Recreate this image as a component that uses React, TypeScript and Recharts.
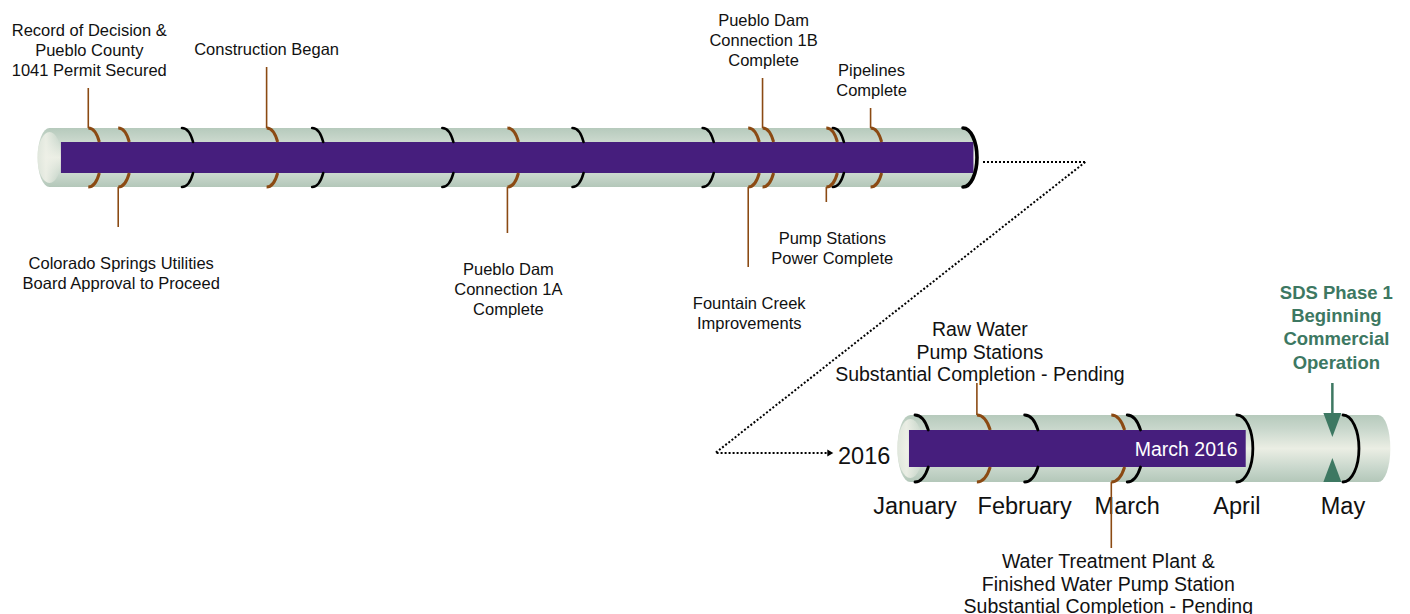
import React from "react";
import { ComposedChart, XAxis, YAxis, Scatter, ReferenceArea } from "recharts";

// ---- top timeline (decimal years) ----
const years = [2010, 2011, 2012, 2013, 2014, 2015, 2016];
const topTubeSpan = [2008.89, 2016.0];
const topProgressSpan = [2009.07, 2016.08];
const topMilestoneDates = [2009.28, 2009.51, 2010.65, 2012.5, 2014.35, 2014.46, 2014.95, 2015.29];
const topMilestoneLabels = [
  "Record of Decision &\nPueblo County\n1041 Permit Secured",
  "Colorado Springs Utilities\nBoard Approval to Proceed",
  "Construction Began",
  "Pueblo Dam\nConnection 1A\nComplete",
  "Fountain Creek\nImprovements",
  "Pueblo Dam\nConnection 1B\nComplete",
  "Pump Stations\nPower Complete",
  "Pipelines\nComplete",
];

// ---- bottom timeline (day of 2016) ----
const zoomYearLabel = "2016";
const monthNames = ["January", "February", "March", "April", "May"];
const monthStarts = [0, 31, 60, 91, 121];
const bottomTubeSpan = [-5, 131];
const bottomProgressSpan = [-1.7, 93.5];
const progressLabel = "March 2016";
const bottomMilestoneDates = [17.5, 55.5];
const bottomMilestoneLabels = [
  "Raw Water\nPump Stations\nSubstantial Completion - Pending",
  "Water Treatment Plant &\nFinished Water Pump Station\nSubstantial Completion - Pending",
];
const goalDate = 118;
const goalLabel = "SDS Phase 1\nBeginning\nCommercial\nOperation";

// ---- layout ----
const W = 1410;
const H = 614;
const FONT = '"Liberation Sans", Arial, Helvetica, sans-serif';
const PURPLE = "#461e7d";
const BROWN = "#8b4a13";
const GREEN = "#3d7862";

const YR_DOMAIN = [2008.6018, 2019.4341];
const MO_DOMAIN = [-258.69, 139.95];
const YR_PX = W / (YR_DOMAIN[1] - YR_DOMAIN[0]);
const MO_PX = W / (MO_DOMAIN[1] - MO_DOMAIN[0]);

const TOP = {
  cy: 157.5, r: 29.5, h: 15.5, bulge: 13, capL: 12, capR: 14,
  px: YR_PX, end: topProgressSpan[1],
  fs: 16.5, lh: 20, gapUp: 12.5, gapDown: 42,
};
const BOT = {
  cy: 448.5, r: 33.5, h: 18.5, bulge: 16, capL: 13, capR: 12,
  px: MO_PX, end: bottomProgressSpan[1],
  fs: 19.5, lh: 22.5, gapUp: 2, gapDown: 20,
};

// leader direction (-1 up, 1 down), length and label nudge
const topLeaders = [
  { dir: -1, len: 40, dx: 1 },
  { dir: 1, len: 40, dx: 3 },
  { dir: -1, len: 61, dx: 0 },
  { dir: 1, len: 46, dx: 1 },
  { dir: 1, len: 80, dx: 1 },
  { dir: -1, len: 50, dx: 1 },
  { dir: 1, len: 15, dx: 6 },
  { dir: -1, len: 20, dx: 1 },
];
const bottomLeaders = [
  { dir: -1, len: 32, dx: 3 },
  { dir: 1, len: 66, dx: -3 },
];

const yearMarks = years.map((yr, i) => ({
  x: yr, y: TOP.cy, g: TOP,
  w: i === years.length - 1 ? 3.6 : 2.6,
  b: i === years.length - 1 ? TOP.capR : TOP.bulge,
}));
const monthMarks = monthStarts.map((d, i) => ({
  x: d, y: BOT.cy, g: BOT, w: 2.8, b: BOT.bulge, name: monthNames[i],
}));
const topMarks = topMilestoneDates.map((d, i) => ({
  x: d, y: TOP.cy, g: TOP, label: topMilestoneLabels[i], ...topLeaders[i],
}));
const bottomMarks = bottomMilestoneDates.map((d, i) => ({
  x: d, y: BOT.cy, g: BOT, label: bottomMilestoneLabels[i], ...bottomLeaders[i],
}));
const goalMarks = [{ x: goalDate, y: BOT.cy, label: goalLabel }];

const kFor = (g: any) => Math.sqrt(1 - (g.h / g.r) ** 2);

function arcD(cx: number, cy: number, g: any, b: number, full: boolean) {
  const r = g.r;
  if (full) return `M${cx},${cy - r} A${b},${r} 0 0 1 ${cx},${cy + r}`;
  const xp = cx + b * kFor(g);
  return (
    `M${cx},${cy - r} A${b},${r} 0 0 1 ${xp},${cy - g.h} ` +
    `M${xp},${cy + g.h} A${b},${r} 0 0 1 ${cx},${cy + r}`
  );
}

const TickArc = (p: any) => {
  const { cx, cy, payload } = p;
  const g = payload.g;
  const full = (payload.x - g.end) * g.px + payload.b * kFor(g) >= 0;
  return (
    <g>
      <path d={arcD(cx, cy, g, payload.b, full)} fill="none" stroke="#000"
        strokeWidth={payload.w} strokeLinecap="round" />
      {payload.name && (
        <text x={cx} y={cy + 65.5} textAnchor="middle" fontSize={23.5}
          fontFamily={FONT} fill="#111">{payload.name}</text>
      )}
    </g>
  );
};

const MilestoneMark = (p: any) => {
  const { cx, cy, payload: m } = p;
  const g = m.g;
  const edge = cy + m.dir * g.r;
  const tip = edge + m.dir * m.len;
  const lines: string[] = m.label.split("\n");
  const first = m.dir < 0 ? tip - g.gapUp - (lines.length - 1) * g.lh : tip + g.gapDown;
  return (
    <g>
      <path d={arcD(cx, cy, g, g.bulge, false)} fill="none" stroke={BROWN} strokeWidth={3} />
      <line x1={cx} y1={edge} x2={cx} y2={tip} stroke={BROWN} strokeWidth={1.6} />
      {lines.map((t, i) => (
        <text key={i} x={cx + m.dx} y={first + i * g.lh} textAnchor="middle"
          fontSize={g.fs} fontFamily={FONT} fill="#111">{t}</text>
      ))}
    </g>
  );
};

const GoalMark = (p: any) => {
  const { cx, cy, payload } = p;
  const top = cy - BOT.r;
  const bot = cy + BOT.r;
  const lines: string[] = payload.label.split("\n");
  const lineTop = top - 32;
  const last = lineTop - 14.5;
  return (
    <g>
      <line x1={cx} y1={lineTop} x2={cx} y2={top + 2} stroke={GREEN} strokeWidth={2.5} />
      <polygon points={`${cx - 9},${top - 2} ${cx + 9},${top - 2} ${cx},${top + 22}`} fill={GREEN} />
      <polygon points={`${cx - 9},${bot} ${cx + 9},${bot} ${cx},${bot - 24}`} fill={GREEN} />
      {lines.map((t, i) => (
        <text key={i} x={cx + 4} y={last - (lines.length - 1 - i) * 23.2} textAnchor="middle"
          fontSize={18.5} fontWeight="bold" fontFamily={FONT} fill={GREEN}>{t}</text>
      ))}
    </g>
  );
};

function tubePath(x: number, width: number, g: any) {
  const top = g.cy - g.r;
  const bot = g.cy + g.r;
  const xl = x + g.capL;
  const xr = x + width;
  return `M${xl},${top} L${xr},${top} A${g.capR},${g.r} 0 0 1 ${xr},${bot} L${xl},${bot} A${g.capL},${g.r} 0 0 1 ${xl},${top} Z`;
}

const TopTube = (p: any) => {
  const { x, width } = p;
  const xr = x + width;
  const dy = TOP.cy + 4.5;
  return (
    <g>
      <path d={tubePath(x, width, TOP)} fill="url(#tubeGrad)" />
      <ellipse cx={x + TOP.capL} cy={TOP.cy} rx={TOP.capL} ry={TOP.r - 4} fill="url(#capGrad)" />
      <line x1={xr + 20} y1={dy} x2={xr + 122} y2={dy} stroke="#000" strokeWidth={2} strokeDasharray="2 2" />
    </g>
  );
};

const BottomTube = (p: any) => {
  const { x, width } = p;
  const yTop = TOP.cy + 4.5;
  const yArrow = BOT.cy + 4.5;
  const tipX = x - 64;
  return (
    <g>
      <path d={`M${x + 188},${yTop} L${x - 182},${yArrow} L${tipX - 5},${yArrow}`}
        fill="none" stroke="#000" strokeWidth={2} strokeDasharray="2 2" />
      <polygon points={`${tipX - 6},${yArrow - 3.5} ${tipX},${yArrow} ${tipX - 6},${yArrow + 3.5}`} fill="#000" />
      <text x={x - 7} y={BOT.cy + 15} textAnchor="end" fontSize={23.5} fontFamily={FONT} fill="#111">
        {zoomYearLabel}
      </text>
      <path d={tubePath(x, width, BOT)} fill="url(#tubeGrad)" />
      <ellipse cx={x + BOT.capL} cy={BOT.cy} rx={BOT.capL} ry={BOT.r - 4} fill="url(#capGrad)" />
    </g>
  );
};

const TopBar = (p: any) => (
  <rect x={p.x} y={p.y} width={p.width} height={p.height} fill={PURPLE} />
);

const BottomBar = (p: any) => (
  <g>
    <rect x={p.x} y={p.y} width={p.width} height={p.height} fill={PURPLE} />
    <text x={p.x + p.width - 8} y={BOT.cy + 7} textAnchor="end" fontSize={19.5}
      fontFamily={FONT} fill="#fff">{progressLabel}</text>
  </g>
);

const YearTick = ({ x, payload }: any) => (
  <text x={x} y={216} textAnchor="middle" fontSize={20} fontFamily={FONT} fill="#111">
    {payload.value}
  </text>
);

export default function App() {
  return (
    <div style={{ width: W, height: H, background: "#fff" }}>
      <style>{"body{margin:0;background:#fff}"}</style>
      <ComposedChart width={W} height={H} margin={{ top: 0, right: 0, bottom: 0, left: 0 }}>
        <defs>
          <linearGradient id="tubeGrad" x1="0" y1="0" x2="0" y2="1">
            <stop offset="0" stopColor="#b6cabc" />
            <stop offset="0.22" stopColor="#cad8cd" />
            <stop offset="0.5" stopColor="#ebeee4" />
            <stop offset="0.78" stopColor="#cad8cd" />
            <stop offset="1" stopColor="#b3c7b9" />
          </linearGradient>
          <linearGradient id="capGrad" x1="0" y1="0" x2="1" y2="0">
            <stop offset="0" stopColor="#dfe6dc" stopOpacity="0.9" />
            <stop offset="0.35" stopColor="#eef0e7" stopOpacity="0.9" />
            <stop offset="1" stopColor="#eef0e7" stopOpacity="0" />
          </linearGradient>
        </defs>
        <XAxis xAxisId="yr" dataKey="x" type="number" domain={YR_DOMAIN} allowDataOverflow
          ticks={years} interval={0} tick={<YearTick />} axisLine={false} tickLine={false} height={0} />
        <XAxis xAxisId="mo" dataKey="x" type="number" domain={MO_DOMAIN} allowDataOverflow
          ticks={monthStarts} tick={false} axisLine={false} tickLine={false} height={0} />
        <YAxis yAxisId="px" dataKey="y" type="number" domain={[0, H]} reversed hide allowDataOverflow />

        <ReferenceArea xAxisId="yr" yAxisId="px" x1={topTubeSpan[0]} x2={topTubeSpan[1]}
          y1={TOP.cy - TOP.r} y2={TOP.cy + TOP.r} shape={<TopTube />} ifOverflow="visible" />
        <ReferenceArea xAxisId="yr" yAxisId="px" x1={topProgressSpan[0]} x2={topProgressSpan[1]}
          y1={TOP.cy - TOP.h} y2={TOP.cy + TOP.h} shape={<TopBar />} ifOverflow="visible" />
        <ReferenceArea xAxisId="mo" yAxisId="px" x1={bottomTubeSpan[0]} x2={bottomTubeSpan[1]}
          y1={BOT.cy - BOT.r} y2={BOT.cy + BOT.r} shape={<BottomTube />} ifOverflow="visible" />
        <ReferenceArea xAxisId="mo" yAxisId="px" x1={bottomProgressSpan[0]} x2={bottomProgressSpan[1]}
          y1={BOT.cy - BOT.h} y2={BOT.cy + BOT.h} shape={<BottomBar />} ifOverflow="visible" />

        <Scatter xAxisId="yr" yAxisId="px" data={yearMarks} shape={<TickArc />} isAnimationActive={false} />
        <Scatter xAxisId="yr" yAxisId="px" data={topMarks} shape={<MilestoneMark />} isAnimationActive={false} />
        <Scatter xAxisId="mo" yAxisId="px" data={monthMarks} shape={<TickArc />} isAnimationActive={false} />
        <Scatter xAxisId="mo" yAxisId="px" data={bottomMarks} shape={<MilestoneMark />} isAnimationActive={false} />
        <Scatter xAxisId="mo" yAxisId="px" data={goalMarks} shape={<GoalMark />} isAnimationActive={false} />
      </ComposedChart>
    </div>
  );
}
